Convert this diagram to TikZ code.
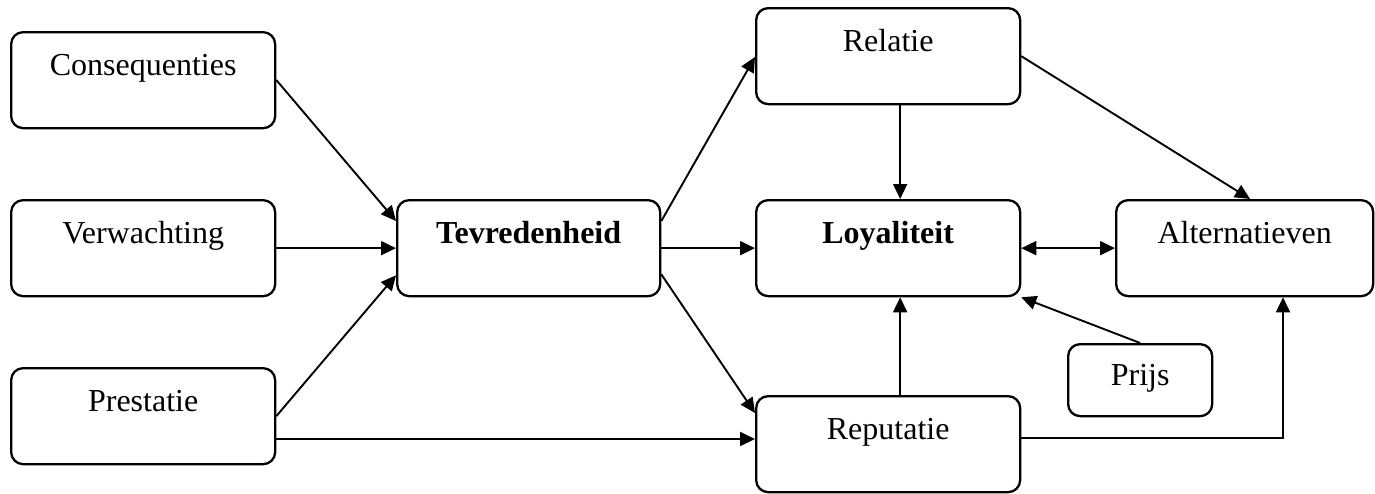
\documentclass[tikz,border=0pt]{standalone}
\usepackage{fontspec}
\setmainfont{Liberation Serif}
\usetikzlibrary{arrows.meta,calc}
\tikzset{
  box/.style={draw, line width=2.3pt, rounded corners=12pt, inner sep=0pt,
    align=center, font=\fontsize{32}{36}\selectfont,
    text height=43pt, text depth=53pt, text width=264pt, anchor=north west},
  smallbox/.style={box, text height=41pt, text depth=31pt, text width=144pt},
  link/.style={line width=1.9pt, -{Triangle[length=15pt,width=14pt]}},
  twoway/.style={line width=1.9pt, {Triangle[length=15pt,width=14pt]}-{Triangle[length=15pt,width=14pt]}}
}
\begin{document}
\begin{tikzpicture}[x=1pt,y=-1pt]
  \useasboundingbox (0,0) rectangle (1375,493);
  % left column
  \node[box] (cons) at (10,31) {Consequenties};
  \node[box] (verw) at (10,199) {Verwachting};
  \node[box] (prest) at (10,367) {Prestatie};
  % centre
  \node[box, text width=263pt] (tev) at (396,199) {\textbf{Tevredenheid}};
  % right part
  \node[box] (rel) at (755,7) {Relatie};
  \node[box] (loy) at (755,199) {\textbf{Loyaliteit}};
  \node[box] (rep) at (755,395) {Reputatie};
  \node[box, text width=257pt] (alt) at (1115,199) {Alternatieven};
  \node[smallbox] (prijs) at (1067,343) {Prijs};

  % influences on satisfaction
  \draw[link] ($(cons.north east)+(0,49)$) -- ($(tev.north west)+(0,22)$);
  \draw[link] (verw.east) -- (tev.west);
  \draw[link] (prest.east) -- ($(tev.south west)+(0,-22)$);
  \draw[link] ($(prest.north east)+(0,72)$) -- ($(rep.north west)+(0,44)$);
  % satisfaction outwards
  \draw[link] ($(tev.north east)+(0,22)$) -- ($(rel.north west)+(0,50)$);
  \draw[link] (tev.east) -- (loy.west);
  \draw[link] ($(tev.south east)+(0,-23)$) -- ($(rep.north west)+(0,18)$);
  % loyalty drivers
  \draw[link] ($(rel.south)+(12,0)$) -- ($(loy.north)+(12,0)$);
  \draw[link] ($(rep.north)+(12,0)$) -- ($(loy.south)+(12,0)$);
  \draw[link] (prijs.north) -- (loy.south east);
  \draw[twoway] (loy.east) -- (alt.west);
  % alternatives
  \draw[link] (rel.east) -- ($(alt.north west)+(135,0)$);
  \draw[link] ($(rep.north east)+(0,43)$) -| ($(alt.south west)+(168,0)$);
\end{tikzpicture}
\end{document}
